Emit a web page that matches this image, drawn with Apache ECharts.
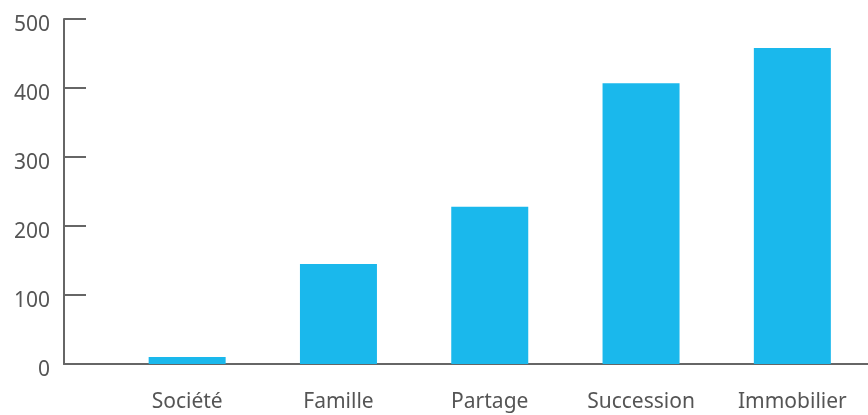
<!DOCTYPE html>
<html><head><meta charset="utf-8">
<script src="https://cdn.jsdelivr.net/npm/echarts@6/dist/echarts.min.js"></script>
<style>html,body{margin:0;padding:0;background:#fff}#c{width:868px;height:415px}</style>
</head><body><div id="c"></div>
<script>
const categories = ['Société', 'Famille', 'Partage', 'Succession', 'Immobilier'];
const values = [10, 145, 228, 407, 458];
const yTicks = [0, 100, 200, 300, 400, 500];

const chart = echarts.init(document.getElementById('c'), null, {renderer: 'canvas'});
const axisColor = '#666666';
const textColor = '#555555';
const font = 'Noto Sans';
chart.setOption({
  animation: false,
  grid: [
    {left: 111.5, right: -6, top: 19, bottom: 51, containLabel: false},
    {left: 64, right: 0, top: 19, bottom: 51, containLabel: false}
  ],
  xAxis: [
    {type: 'category', gridIndex: 0, data: categories,
     axisLine: {show: false}, axisTick: {show: false},
     axisLabel: {color: textColor, fontFamily: font, fontSize: 21, margin: 28}},
    {type: 'value', gridIndex: 1, min: 0, max: 1,
     axisLine: {show: true, lineStyle: {color: axisColor, width: 2}},
     axisTick: {show: false}, axisLabel: {show: false}, splitLine: {show: false}}
  ],
  yAxis: [
    {type: 'value', gridIndex: 0, min: yTicks[0], max: yTicks[yTicks.length - 1], interval: 100,
     offset: 47.5,
     axisLine: {show: true, lineStyle: {color: axisColor, width: 2}},
     axisTick: {show: true, inside: true, length: 22, lineStyle: {color: axisColor, width: 2}},
     axisLabel: {color: textColor, fontFamily: font, fontSize: 21, margin: 14,
                 verticalAlign: 'top', lineHeight: 12},
     splitLine: {show: false}},
    {type: 'value', gridIndex: 1, show: false, min: 0, max: 1}
  ],
  series: [{
    type: 'bar', xAxisIndex: 0, yAxisIndex: 0, data: values,
    barWidth: 77, itemStyle: {color: '#1AB8EC'}
  }]
});
</script></body></html>
